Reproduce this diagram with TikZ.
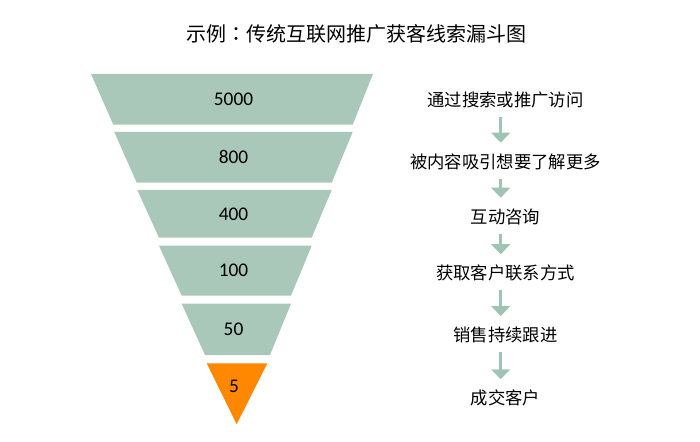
\documentclass[tikz,border=0pt]{standalone}
\usepackage{fontspec}
\setmainfont{Carlito}
\newfontfamily\cjk{Noto Sans CJK SC}
\newfontfamily\cjktc{Noto Sans CJK TC}
\usetikzlibrary{arrows.meta}
\definecolor{funnelGreen}{HTML}{A9C8B9}
\definecolor{arrowGreen}{HTML}{A0C4B4}
\definecolor{funnelOrange}{HTML}{FF8800}
\tikzset{
  band/.style={fill=funnelGreen},
  tipband/.style={fill=funnelOrange},
  countlabel/.style={font=\fontsize{14.5}{16}\selectfont, inner sep=0pt},
  steplabel/.style={font=\cjk\fontsize{13}{15}\selectfont, inner sep=0pt},
  titlelabel/.style={font=\cjk\fontsize{15}{17}\selectfont, inner sep=0pt},
  flowarrow/.style={-{Triangle[width=14pt,length=7.5pt]}, line width=2pt,
    arrowGreen, shorten <=6.5pt, shorten >=8pt},
}
\begin{document}
\begin{tikzpicture}[x=0.75pt, y=-0.75pt]
  \useasboundingbox (0,0) rectangle (700,442);
  \node[titlelabel] (title) at (356,34) {示例{\cjktc ：}传统互联网推广获客线索漏斗图};
  % funnel bands, top to bottom
  \foreach \ya/\yb/\xa/\xb/\xc/\xd/\val [count=\i] in {
      74/124.7/91/373/113.3/352.7/5000,
      132/182.7/114.3/352.7/136.7/331.7/800,
      190/237.7/137.3/331.7/159/311.7/400,
      245.7/295.7/159/311.7/181.7/291/100,
      303.7/355/181.7/291/205/270/50}{
    \fill[band] (\xa,\ya) -- (\xb,\ya) -- (\xd,\yb) -- (\xc,\yb) -- cycle;
    \node[countlabel] (b\i) at (233.5,{(\ya+\yb)/2}) {\val};
  }
  \fill[tipband] (206.7,363.3) -- (267.3,363.3) -- (236.7,424.3) -- cycle;
  \node[countlabel] (b6) at (234,386) {5};
  % steps on the right
  \foreach \y/\txt [count=\i] in {100/通过搜索或推广访问,
      161.7/被内容吸引想要了解更多, 216.7/互动咨询,
      273.3/获取客户联系方式, 335/销售持续跟进, 398.3/成交客户}
    \node[steplabel] (s\i) at (505.5,\y) {\txt};
  \coordinate (axis) at (500.7,0);
  \foreach \i [evaluate=\i as \j using int(\i+1)] in {1,...,5}
    \draw[flowarrow] (s\i.south -| axis) -- (s\j.north -| axis);
\end{tikzpicture}
\end{document}
